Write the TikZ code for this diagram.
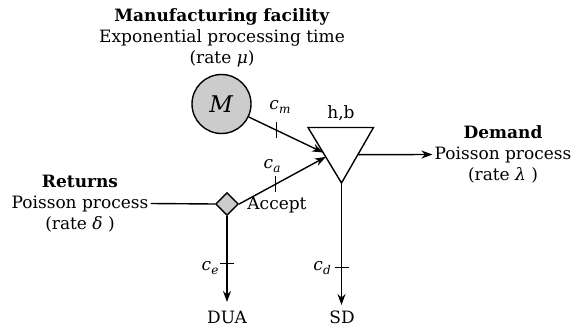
\documentclass[tikz,border=0pt]{standalone}
\usepackage{fontspec}
\setmainfont{DejaVu Serif}
\usetikzlibrary{arrows.meta,shapes.geometric,calc}
\definecolor{shade}{RGB}{204,204,204}
\newcommand\csub[2]{\textit{#1}\kern0.3pt\raisebox{-0.45ex}{\fontsize{12}{12}\selectfont\textit{#2}}}
\tikzset{
  conn/.style={line width=1.4pt},
  arr/.style={conn,-{Stealth[length=11pt,width=8pt]}},
  tick/.style={line width=1.2pt},
  txt/.style={font=\fontsize{17}{21}\selectfont,align=center,inner sep=2pt},
  lbl/.style={font=\fontsize{17}{21}\selectfont,inner sep=0pt},
}
\begin{document}
\begin{tikzpicture}[x=1pt,y=-1pt]
\useasboundingbox (0,0) rectangle (572,326);
% text blocks
\node[txt] (mf) at (222,37.5) {\textbf{Manufacturing facility}\\Exponential processing time\\(rate \textit{μ})};
\node[txt] (ret) at (80,203.5) {\textbf{Returns}\\Poisson process\\(rate \textit{δ} )};
\node[txt] (dem) at (503,154.5) {\textbf{Demand}\\Poisson process\\(rate \textit{λ} )};
% machine
\node[circle,draw,conn,fill=shade,minimum size=59pt,inner sep=0pt,font=\fontsize{23}{28}\selectfont] (M) at (221.5,104) {\textit{M}};
% diamond
\node[diamond,draw,conn,fill=shade,minimum width=23pt,minimum height=23pt,inner sep=0pt] (D) at (227,204) {};
% triangle (stock point)
\coordinate (tl) at (308,127.5);
\coordinate (tr) at (373.5,127.5);
\coordinate (tb) at (341.5,183);
\draw[conn,line join=miter,fill=white] (tl) -- (tr) -- (tb) -- cycle;
\coordinate (tin1) at ($(tl)!0.45!(tb)$);
\coordinate (tin2) at ($(tl)!0.53!(tb)$);
\coordinate (tout) at ($(tr)!0.49!(tb)$);
\node[txt,inner sep=0pt,anchor=base] (hb) at (341,118) {h,b};
% end labels
\node[txt,anchor=base,inner sep=0pt] (dua) at (227,323) {DUA};
\node[txt,anchor=base,inner sep=0pt] (sd) at (342,323) {SD};
\coordinate (duaend) at (227,302);
\coordinate (sdend) at (341.5,305);
% connectors
\draw[conn] (ret.east) -- (D.west);
\draw[arr] (M) -- (tin1) coordinate[pos=0.37] (km);
\draw[arr] (D.east) -- (tin2) coordinate[pos=0.42] (ka);
\draw[arr] (tout) -- (dem.west);
\draw[arr] (D.south) -- (duaend) coordinate[pos=0.55] (ke);
\draw[arr] (tb) -- (sdend) coordinate[pos=0.69] (kd);
% ticks
\draw[tick] ($(km)+(0,-8)$) -- ($(km)+(0,8)$);
\draw[tick] ($(ka)+(0,-8)$) -- ($(ka)+(0,8)$);
\draw[tick] ($(ke)+(-7,0)$) -- ($(ke)+(7,0)$);
\draw[tick] ($(kd)+(-7,0)$) -- ($(kd)+(7,0)$);
% cost labels
\node[lbl] (cm) at (280,107) {\csub{c}{m}};
\node[lbl] (ca) at (272,166) {\csub{c}{a}};
\node[lbl] (ce) at (210,268) {\csub{c}{e}};
\node[lbl] (cd) at (322,268) {\csub{c}{d}};
\node[txt,anchor=base,inner sep=0pt] (acc) at (277,209) {Accept};
\end{tikzpicture}
\end{document}
